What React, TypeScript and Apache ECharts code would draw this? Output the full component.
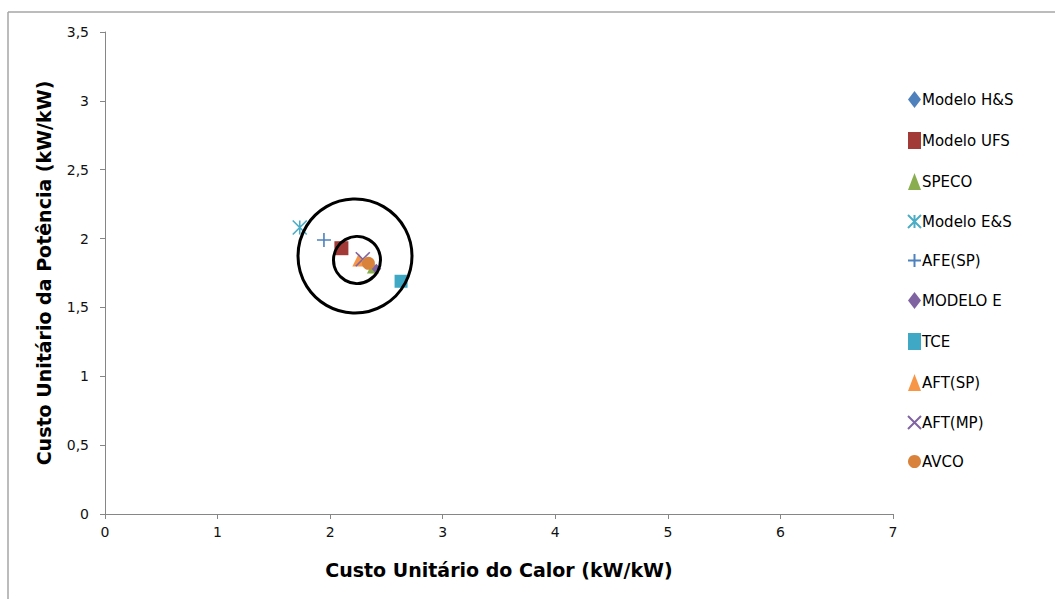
import React, { useEffect, useRef } from "react";
import * as echarts from "echarts";

const seriesNames = [
  "Modelo H&S",
  "Modelo UFS",
  "SPECO",
  "Modelo E&S",
  "AFE(SP)",
  "MODELO E",
  "TCE",
  "AFT(SP)",
  "AFT(MP)",
  "AVCO",
];
const seriesX = [2.11, 2.1, 2.38, 1.73, 1.945, 2.41, 2.63, 2.255, 2.29, 2.34];
const seriesY = [1.925, 1.93, 1.79, 2.08, 1.99, 1.78, 1.69, 1.845, 1.85, 1.82];
const seriesColors = [
  "#4F81BD",
  "#A23B38",
  "#8AAE4F",
  "#4BACC6",
  "#4F81BD",
  "#8064A2",
  "#3FA8C4",
  "#F79646",
  "#8064A2",
  "#D9823B",
];
const ASTER = "path://M0,0 L10,10 M10,0 L0,10 M5,0 L5,10";
const PLUS = "path://M5,0 L5,10 M0,5 L10,5";
const CROSS = "path://M0,0 L10,10 M10,0 L0,10";
const seriesSymbols = [
  "diamond",
  "rect",
  "triangle",
  ASTER,
  PLUS,
  "diamond",
  "rect",
  "triangle",
  CROSS,
  "circle",
];
const seriesSizes = [10, 14, 12, 14, 14, 10, 13, 13, 14, 13];
const strokeOnly = [false, false, false, true, true, false, false, false, true, false];

const xTicks = { min: 0, max: 7, interval: 1 };
const yTicks = { min: 0, max: 3.5, interval: 0.5 };

export default function App() {
  const ref = useRef<HTMLDivElement>(null);
  useEffect(() => {
    const chart = echarts.init(ref.current!, undefined, { renderer: "svg" });
    const font = "DejaVu Sans";
    chart.setOption({
      animation: false,
      backgroundColor: "#fff",
      textStyle: { fontFamily: font },
      grid: { left: 105, right: 162, top: 32, bottom: 85 },
      xAxis: {
        type: "value",
        min: xTicks.min,
        max: xTicks.max,
        interval: xTicks.interval,
        name: "Custo Unitário do Calor (kW/kW)",
        nameLocation: "middle",
        nameGap: 46,
        nameTextStyle: { fontSize: 19, fontWeight: "bold", color: "#000", fontFamily: font },
        axisLine: { show: true, onZero: false, lineStyle: { color: "#868686", width: 1 } },
        axisTick: { show: true, length: 5, lineStyle: { color: "#868686" } },
        axisLabel: { fontSize: 14, color: "#111", margin: 11, fontFamily: font },
        splitLine: { show: false },
      },
      yAxis: {
        type: "value",
        min: yTicks.min,
        max: yTicks.max,
        interval: yTicks.interval,
        name: "Custo Unitário da Potência (kW/kW)",
        nameLocation: "middle",
        nameGap: 52,
        nameTextStyle: { fontSize: 19, fontWeight: "bold", color: "#000", fontFamily: font },
        axisLine: { show: true, onZero: false, lineStyle: { color: "#868686", width: 1 } },
        axisTick: { show: true, length: 5, lineStyle: { color: "#868686" } },
        axisLabel: {
          fontSize: 14,
          color: "#111",
          margin: 16,
          fontFamily: font,
          formatter: (v: number) => String(v).replace(".", ","),
        },
        splitLine: { show: false },
      },
      legend: {
        orient: "vertical",
        left: 902,
        top: 86,
        itemGap: 24,
        itemWidth: 13,
        itemHeight: 17,
        textStyle: { fontSize: 15, color: "#000", fontFamily: font, padding: [0, 0, 0, -4] },
        data: seriesNames,
      },
      series: seriesNames.map((n, i) => ({
        name: n,
        type: "scatter",
        symbol: seriesSymbols[i],
        symbolSize: seriesSizes[i],
        data: [[seriesX[i], seriesY[i]]],
        itemStyle: strokeOnly[i]
          ? { color: "rgba(0,0,0,0)", borderColor: seriesColors[i], borderWidth: 1.6, opacity: 1 }
          : { color: seriesColors[i], opacity: 1 },
        z: 2,
      })),
      graphic: [
        { type: "line", shape: { x1: 8, y1: 12, x2: 1100, y2: 12 }, style: { stroke: "#A6A6A6", lineWidth: 1.5 } },
        { type: "line", shape: { x1: 8, y1: 12, x2: 8, y2: 700 }, style: { stroke: "#A6A6A6", lineWidth: 1.5 } },
        { type: "circle", shape: { cx: 355, cy: 256, r: 57 }, style: { fill: "none", stroke: "#000", lineWidth: 3 }, z: 10 },
        { type: "circle", shape: { cx: 357, cy: 260, r: 23.5 }, style: { fill: "none", stroke: "#000", lineWidth: 3 }, z: 10 },
      ],
    });
    return () => chart.dispose();
  }, []);
  return (
    <div
      ref={ref}
      style={{ position: "fixed", left: 0, top: 0, width: 1055, height: 599 }}
    />
  );
}
